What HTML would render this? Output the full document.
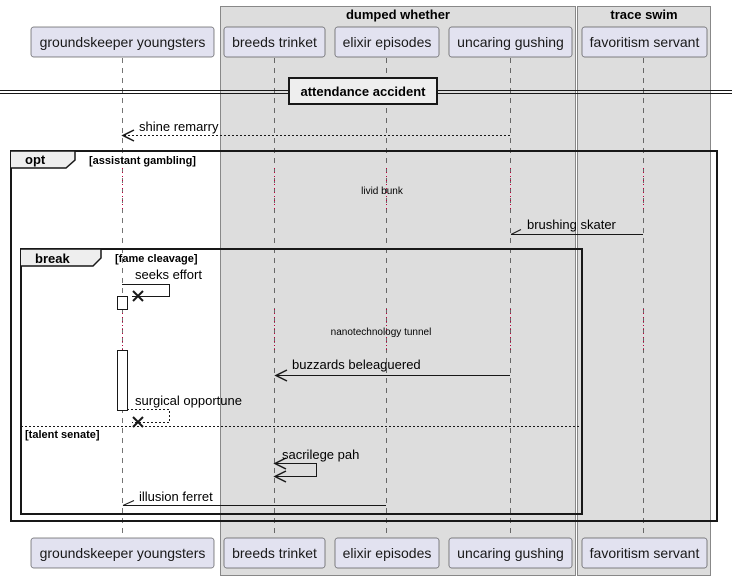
<!DOCTYPE html>
<html><head><meta charset="utf-8"><style>
html,body{margin:0;padding:0;background:#fff;}
svg{display:block;font-family:"Liberation Sans",sans-serif;}
</style></head><body>
<svg width="732" height="579" viewBox="0 0 732 579" xmlns="http://www.w3.org/2000/svg">
<defs>
<marker id="a" markerWidth="12" markerHeight="12" refX="1" refY="6" orient="auto" markerUnits="userSpaceOnUse"><path d="M11,1 L1,6 L11,11 L6,6 Z" fill="#181818"/></marker>
</defs>
<!-- boxes -->
<rect x="220.5" y="6.5" width="355" height="569" fill="#ddd" stroke="#888" stroke-width="1"/>
<rect x="577.5" y="6.5" width="133" height="569" fill="#ddd" stroke="#888" stroke-width="1"/>
<text x="398" y="19" font-size="13" font-weight="bold" text-anchor="middle">dumped whether</text>
<text x="644" y="19" font-size="13" font-weight="bold" text-anchor="middle">trace swim</text>

<!-- lifelines -->
<g stroke="#181818" stroke-width="0.6" stroke-dasharray="5,5">
<line x1="122.5" y1="58" x2="122.5" y2="538"/>
<line x1="274.5" y1="58" x2="274.5" y2="538"/>
<line x1="386.5" y1="58" x2="386.5" y2="538"/>
<line x1="510.5" y1="58" x2="510.5" y2="538"/>
<line x1="643.5" y1="58" x2="643.5" y2="538"/>
</g>
<!-- delay segments -->
<g fill="#fff"><rect x="118" y="168" width="9" height="42" opacity="0"/></g>
<g stroke="#c0003c" stroke-width="1" stroke-dasharray="1,3">
<line x1="122.5" y1="168" x2="122.5" y2="210"/><line x1="274.5" y1="168" x2="274.5" y2="210"/>
<line x1="386.5" y1="168" x2="386.5" y2="210"/><line x1="510.5" y1="168" x2="510.5" y2="210"/>
<line x1="643.5" y1="168" x2="643.5" y2="210"/>
<line x1="122.5" y1="309" x2="122.5" y2="350"/><line x1="274.5" y1="309" x2="274.5" y2="350"/>
<line x1="386.5" y1="309" x2="386.5" y2="350"/><line x1="510.5" y1="309" x2="510.5" y2="350"/>
<line x1="643.5" y1="309" x2="643.5" y2="350"/>
</g>

<!-- participants -->
<g fill="#e2e2f0" stroke="#181818" stroke-width="0.5">
<rect x="31" y="27" width="183" height="30" rx="2.5"/><rect x="224" y="27" width="101" height="30" rx="2.5"/>
<rect x="335" y="27" width="104" height="30" rx="2.5"/><rect x="449" y="27" width="123" height="30" rx="2.5"/>
<rect x="582" y="27" width="125" height="30" rx="2.5"/>
<rect x="31" y="538" width="183" height="30" rx="2.5"/><rect x="224" y="538" width="101" height="30" rx="2.5"/>
<rect x="335" y="538" width="104" height="30" rx="2.5"/><rect x="449" y="538" width="123" height="30" rx="2.5"/>
<rect x="582" y="538" width="125" height="30" rx="2.5"/>
</g>
<g font-size="14" text-anchor="middle" fill="#181818">
<text x="122.5" y="47">groundskeeper youngsters</text><text x="274.5" y="47">breeds trinket</text>
<text x="387" y="47">elixir episodes</text><text x="510.5" y="47">uncaring gushing</text><text x="644.5" y="47">favoritism servant</text>
<text x="122.5" y="558">groundskeeper youngsters</text><text x="274.5" y="558">breeds trinket</text>
<text x="387" y="558">elixir episodes</text><text x="510.5" y="558">uncaring gushing</text><text x="644.5" y="558">favoritism servant</text>
</g>

<!-- divider -->
<g stroke="#181818" stroke-width="1"><line x1="0" y1="90.5" x2="732" y2="90.5"/><line x1="0" y1="93.5" x2="732" y2="93.5"/></g>
<rect x="289" y="78" width="148" height="26" fill="#eee" stroke="#181818" stroke-width="2"/>
<text x="363" y="96" font-size="13" font-weight="bold" text-anchor="middle">attendance accident</text>

<!-- shine remarry -->
<line x1="510" y1="135.5" x2="124" y2="135.5" stroke="#181818" stroke-dasharray="2,2"/>
<path d="M134,130 L123,135.5 L134,141" fill="none" stroke="#181818" stroke-width="1.5"/>
<text x="139" y="131" font-size="13">shine remarry</text>

<!-- opt frame -->
<rect x="11" y="151" width="706" height="370" fill="none" stroke="#181818" stroke-width="2"/>
<path d="M11,151 L75,151 L75,160 L66,168 L11,168" fill="#eee" stroke="#181818" stroke-width="1.5"/>
<text x="25" y="164" font-size="13" font-weight="bold">opt</text>
<text x="89" y="164" font-size="11" font-weight="bold">[assistant gambling]</text>
<text x="382" y="194" font-size="10" text-anchor="middle">livid bunk</text>

<!-- brushing skater -->
<line x1="643" y1="234.5" x2="511" y2="234.5" stroke="#181818"/>
<line x1="511" y1="234.5" x2="521" y2="229.5" stroke="#181818"/>
<text x="527" y="229" font-size="13">brushing skater</text>

<!-- break frame -->
<rect x="21" y="249" width="561" height="265" fill="none" stroke="#181818" stroke-width="2"/>
<path d="M21,249 L101,249 L101,258 L93,266 L21,266" fill="#eee" stroke="#181818" stroke-width="1.5"/>
<text x="35" y="263" font-size="13" font-weight="bold">break</text>
<text x="115" y="262" font-size="11" font-weight="bold">[fame cleavage]</text>

<!-- seeks effort -->
<path d="M122,284.5 L169.5,284.5 L169.5,296.5 L132,296.5" fill="none" stroke="#181818"/>
<path d="M133,291 L143,301 M133,301 L143,291" stroke="#181818" stroke-width="2"/>
<text x="135" y="279" font-size="13">seeks effort</text>
<rect x="117.5" y="296.5" width="10" height="13" fill="#fff" stroke="#181818"/>
<rect x="117.5" y="350.5" width="10" height="60" fill="#fff" stroke="#181818"/>
<text x="381" y="335" font-size="10" text-anchor="middle">nanotechnology tunnel</text>

<!-- buzzards -->
<line x1="510" y1="375.5" x2="277" y2="375.5" stroke="#181818"/>
<path d="M287,370 L276,375.5 L287,381" fill="none" stroke="#181818" stroke-width="1.5"/>
<text x="292" y="369" font-size="13">buzzards beleaguered</text>

<!-- surgical opportune -->
<path d="M127,409.5 L169.5,409.5 L169.5,422.5 L132,422.5" fill="none" stroke="#181818" stroke-dasharray="2,2"/>
<path d="M133,417 L143,427 M133,427 L143,417" stroke="#181818" stroke-width="2"/>
<text x="135" y="405" font-size="13">surgical opportune</text>

<!-- else -->
<line x1="21" y1="426.5" x2="582" y2="426.5" stroke="#181818" stroke-dasharray="2,2"/>
<text x="25" y="438" font-size="11" font-weight="bold">[talent senate]</text>

<!-- sacrilege pah -->
<path d="M276,463.5 L316.5,463.5 L316.5,476.5 L276,476.5" fill="none" stroke="#181818"/>
<path d="M286,458 L275,463.5 L286,469 M286,471 L275,476.5 L286,482" fill="none" stroke="#181818" stroke-width="1.5"/>
<text x="282" y="459" font-size="13">sacrilege pah</text>

<!-- illusion ferret -->
<line x1="386" y1="505.5" x2="123" y2="505.5" stroke="#181818"/>
<line x1="123" y1="505.5" x2="134" y2="500.5" stroke="#181818"/>
<text x="139" y="501" font-size="13">illusion ferret</text>
</svg>
</body></html>
